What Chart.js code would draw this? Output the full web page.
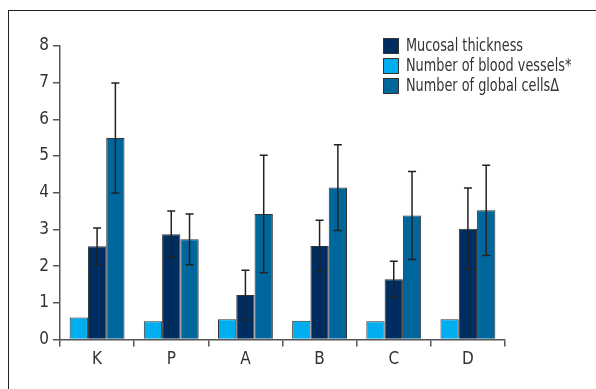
<!DOCTYPE html>
<html lang="en">

<head>
    <meta charset="utf-8">
    <title>Chart</title>
    <style>
        body { margin: 0; background: #fff; }
        .wrap { position: relative; width: 596px; height: 389px; overflow: hidden; }
        .frame { position: absolute; left: 8px; top: 10px; width: 700px; height: 500px; border-top: 1.5px solid #222; border-left: 1.5px solid #222; }
        .legend { position: absolute; left: 383px; top: 37px; font-family: "Liberation Sans Narrow", "DejaVu Sans Condensed", sans-serif; font-size: 17px; color: #333; white-space: nowrap; }
        .legend div { height: 20px; line-height: 17px; display: flex; align-items: flex-start; }
        .legend span.box { display: inline-block; width: 14px; height: 14px; border: 1px solid #333; margin-right: 7px; margin-top: 1px; flex: none; }
        .legend span.txt { display: inline-block; transform: scaleX(0.84); transform-origin: left center; }
    </style>
</head>

<body>
    <div class="wrap">
        <div class="frame"></div>
        <canvas id="myChart"></canvas>
        <div class="legend" id="legend"></div>
    </div>
    <script src="https://cdn.jsdelivr.net/npm/chart.js/dist/chart.umd.min.js"></script>
    <script>
        const categories = ['K', 'P', 'A', 'B', 'C', 'D'];

        const bloodVessels = [0.60, 0.50, 0.55, 0.51, 0.50, 0.55];
        const mucosal = [2.54, 2.87, 1.21, 2.55, 1.64, 3.02];
        const mucosalErr = [0.50, 0.63, 0.68, 0.70, 0.49, 1.11];
        const globalCells = [5.49, 2.73, 3.42, 4.14, 3.38, 3.52];
        const globalErr = [1.50, 0.69, 1.60, 1.17, 1.20, 1.23];

        const yTicks = [0, 1, 2, 3, 4, 5, 6, 7, 8];

        const fontFamily = '"Liberation Sans Narrow", "DejaVu Sans Condensed", sans-serif';

        const data = {
            labels: categories,
            datasets: [{
                label: 'Number of blood vessels*',
                data: bloodVessels,
                backgroundColor: '#00aeef',
                borderColor: '#333',
                borderWidth: 1
            }, {
                label: 'Mucosal thickness',
                data: mucosal,
                errors: mucosalErr,
                backgroundColor: '#002d5f',
                borderColor: '#333',
                borderWidth: 1
            }, {
                label: 'Number of global cellsΔ',
                data: globalCells,
                errors: globalErr,
                backgroundColor: '#00679c',
                borderColor: '#333',
                borderWidth: 1
            }]
        };

        // error bars drawn from dataset.errors using the y scale
        const errorBars = {
            id: 'errorBars',
            afterDatasetsDraw(chart) {
                const ctx = chart.ctx;
                const y = chart.scales.y;
                ctx.save();
                ctx.strokeStyle = '#222';
                ctx.lineWidth = 1.5;
                chart.data.datasets.forEach((ds, i) => {
                    if (!ds.errors) return;
                    const meta = chart.getDatasetMeta(i);
                    meta.data.forEach((bar, j) => {
                        const v = ds.data[j];
                        const e = ds.errors[j];
                        const top = y.getPixelForValue(v + e);
                        const bot = y.getPixelForValue(v - e);
                        ctx.beginPath();
                        ctx.moveTo(bar.x, top);
                        ctx.lineTo(bar.x, bot);
                        ctx.moveTo(bar.x - 4, top);
                        ctx.lineTo(bar.x + 4, top);
                        ctx.moveTo(bar.x - 4, bot);
                        ctx.lineTo(bar.x + 4, bot);
                        ctx.stroke();
                    });
                });
                ctx.restore();
            }
        };

        const config = {
            type: 'bar',
            data,
            options: {
                responsive: true,
                maintainAspectRatio: false,
                animation: false,
                layout: {
                    padding: { left: 0, right: 91, top: 46, bottom: 0 }
                },
                datasets: {
                    bar: {
                        categoryPercentage: 0.74,
                        barPercentage: 1.0
                    }
                },
                plugins: {
                    legend: { display: false },
                    tooltip: { enabled: false }
                },
                scales: {
                    x: {
                        grid: {
                            offset: true,
                            drawOnChartArea: false,
                            tickLength: 7,
                            color: '#555',
                            lineWidth: 1.5
                        },
                        border: { color: '#555', width: 1.5 },
                        ticks: {
                            color: '#333',
                            padding: 3,
                            font: { family: fontFamily, size: 17 }
                        },
                        afterFit(scale) { scale.height = 49.5; }
                    },
                    y: {
                        min: 0,
                        max: 8,
                        afterBuildTicks(scale) {
                            scale.ticks = yTicks.map(v => ({ value: v }));
                        },
                        grid: {
                            drawOnChartArea: false,
                            tickLength: 7,
                            color: '#555',
                            lineWidth: 1.5
                        },
                        border: { color: '#555', width: 1.5 },
                        ticks: {
                            color: '#333',
                            padding: 4,
                            font: { family: fontFamily, size: 17 }
                        },
                        afterFit(scale) { scale.width = 60; }
                    }
                }
            },
            plugins: [errorBars]
        };

        const myChart = new Chart(document.getElementById('myChart'), config);

        // legend in the original order
        const legendOrder = [1, 0, 2];
        const legend = document.getElementById('legend');
        legendOrder.forEach(i => {
            const ds = data.datasets[i];
            const row = document.createElement('div');
            const box = document.createElement('span');
            box.className = 'box';
            box.style.background = ds.backgroundColor;
            const txt = document.createElement('span');
            txt.className = 'txt';
            txt.textContent = ds.label;
            row.appendChild(box);
            row.appendChild(txt);
            legend.appendChild(row);
        });
    </script>
</body>

</html>
